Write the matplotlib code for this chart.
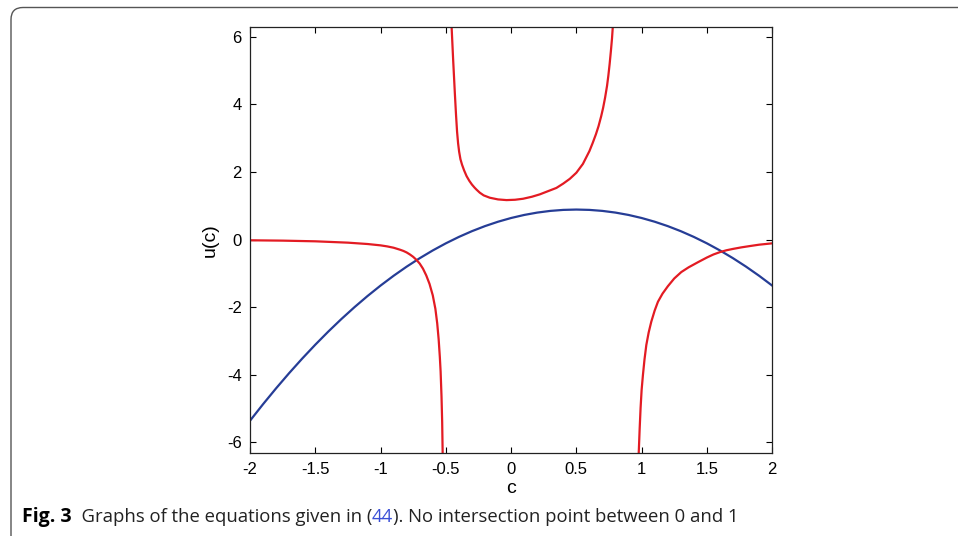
import matplotlib
matplotlib.use("Agg")
import matplotlib.pyplot as plt
from matplotlib.patches import FancyBboxPatch
from matplotlib.transforms import IdentityTransform

# courbe bleue (parabole)
blue_c = [-2.0, -1.9, -1.8, -1.7, -1.6, -1.5, -1.4, -1.3, -1.2, -1.1, -1.0,
          -0.9, -0.8, -0.7, -0.6, -0.5, -0.4, -0.3, -0.2, -0.1, 0.0,
          0.1, 0.2, 0.3, 0.4, 0.5, 0.6, 0.7, 0.8, 0.9, 1.0,
          1.1, 1.2, 1.3, 1.4, 1.5, 1.6, 1.7, 1.8, 1.9, 2.0]
blue_u = [-5.36, -4.87, -4.40, -3.95, -3.52, -3.11, -2.72, -2.35, -2.00, -1.67, -1.36,
          -1.07, -0.80, -0.55, -0.32, -0.11, 0.08, 0.25, 0.40, 0.53, 0.64,
          0.73, 0.80, 0.85, 0.88, 0.89, 0.88, 0.85, 0.80, 0.73, 0.64,
          0.53, 0.40, 0.25, 0.08, -0.11, -0.32, -0.55, -0.80, -1.07, -1.36]

# courbe rouge, trois branches
red_left_c = [-2.0, -1.75, -1.5, -1.25, -1.1, -1.0, -0.95, -0.9, -0.875, -0.85,
              -0.825, -0.8, -0.775, -0.75, -0.725, -0.7, -0.675, -0.65, -0.625,
              -0.6, -0.59, -0.58, -0.566, -0.555, -0.546, -0.54, -0.533, -0.528, -0.524]
red_left_u = [-0.02, -0.03, -0.05, -0.09, -0.13, -0.17, -0.20, -0.24, -0.27, -0.30,
              -0.335, -0.38, -0.44, -0.51, -0.60, -0.71, -0.86, -1.06, -1.31,
              -1.65, -1.85, -2.05, -2.48, -2.95, -3.47, -3.9, -4.65, -5.4, -6.4]

red_mid_c = [-0.457, -0.444, -0.431, -0.422, -0.414, -0.406, -0.398, -0.388, -0.376,
             -0.36, -0.341, -0.32, -0.30, -0.28, -0.265, -0.24, -0.21, -0.163, -0.10,
             -0.035, 0.03, 0.092, 0.16, 0.22, 0.28, 0.347, 0.40, 0.45, 0.50, 0.55,
             0.60, 0.625, 0.65, 0.67, 0.69, 0.705, 0.72, 0.735, 0.745, 0.755, 0.765,
             0.773, 0.781]
red_mid_u = [6.4, 5.33, 4.34, 3.7, 3.2, 2.85, 2.6, 2.38, 2.22,
             2.05, 1.88, 1.74, 1.63, 1.54, 1.48, 1.39, 1.31, 1.24, 1.19,
             1.17, 1.18, 1.21, 1.27, 1.34, 1.43, 1.53, 1.66, 1.80, 1.98, 2.24,
             2.62, 2.86, 3.12, 3.36, 3.65, 3.9, 4.2, 4.55, 4.85, 5.2, 5.6,
             5.95, 6.4]

red_right_c = [0.977, 0.985, 0.992, 1.0, 1.01, 1.022, 1.036, 1.054, 1.074, 1.10,
               1.125, 1.16, 1.201, 1.25, 1.304, 1.36, 1.431, 1.5, 1.55, 1.6,
               1.65, 1.7, 1.763, 1.83, 1.9, 2.0]
red_right_u = [-6.4, -5.6, -4.99, -4.45, -4.01, -3.55, -3.12, -2.75, -2.43, -2.10,
               -1.84, -1.60, -1.38, -1.15, -0.96, -0.82, -0.67, -0.53, -0.44, -0.37,
               -0.315, -0.275, -0.23, -0.19, -0.15, -0.11]

x_ticks = [-2, -1.5, -1, -0.5, 0, 0.5, 1, 1.5, 2]
x_tick_labels = ['-2', '-1.5', '-1', '-0.5', '0', '0.5', '1', '1.5', '2']
y_ticks = [-6, -4, -2, 0, 2, 4, 6]

plt.rcParams['font.family'] = ['Liberation Sans', 'DejaVu Sans']
plt.rcParams['axes.unicode_minus'] = False

fig = plt.figure(figsize=(9.58, 5.36), dpi=100)
ax = fig.add_axes([0.261, 0.154, 0.545, 0.796])

red = '#e31b23'
blue = '#263d96'
ax.plot(blue_c, blue_u, color=blue, lw=1.6)
ax.plot(red_left_c, red_left_u, color=red, lw=1.6)
ax.plot(red_mid_c, red_mid_u, color=red, lw=1.6)
ax.plot(red_right_c, red_right_u, color=red, lw=1.6)

ax.set_xlim(-2, 2)
ax.set_ylim(-6.33, 6.3)
ax.set_xticks(x_ticks)
ax.set_xticklabels(x_tick_labels)
ax.set_yticks(y_ticks)
ax.tick_params(direction='in', top=True, right=True, length=4, width=0.8,
               labelsize=12, pad=6)
for s in ax.spines.values():
    s.set_linewidth(0.9)
    s.set_color('#222222')

ax.set_xlabel('c', fontsize=14, labelpad=2)
ax.set_ylabel('u(c)', fontsize=14, labelpad=6)

# cadre arrondi autour de la figure
box = FancyBboxPatch((11, -30), 1000, 536 - 7.5 + 30,
                     boxstyle='round,pad=0,rounding_size=12',
                     transform=IdentityTransform(), fill=False,
                     edgecolor='#555555', lw=1.0)
fig.patches.append(box)

# légende de la figure
fig.canvas.draw()
r = fig.canvas.get_renderer()
pieces = [('Fig. 3', 'bold', 'black', 14),
          ('  Graphs of the equations given in (', 'normal', '#222222', 13.3),
          ('44', 'normal', '#3a4fd6', 13.3),
          ('). No intersection point between 0 and 1', 'normal', '#222222', 13.3)]
x = 22 / 958
for txt, w, col, fs in pieces:
    t = fig.text(x, 1 - 522 / 536, txt, fontsize=fs, fontweight=w, color=col,
                 family=['Open Sans', 'DejaVu Sans'], va='baseline')
    bb = t.get_window_extent(renderer=r)
    x += bb.width / 958

fig.savefig('out.png', dpi=100)
